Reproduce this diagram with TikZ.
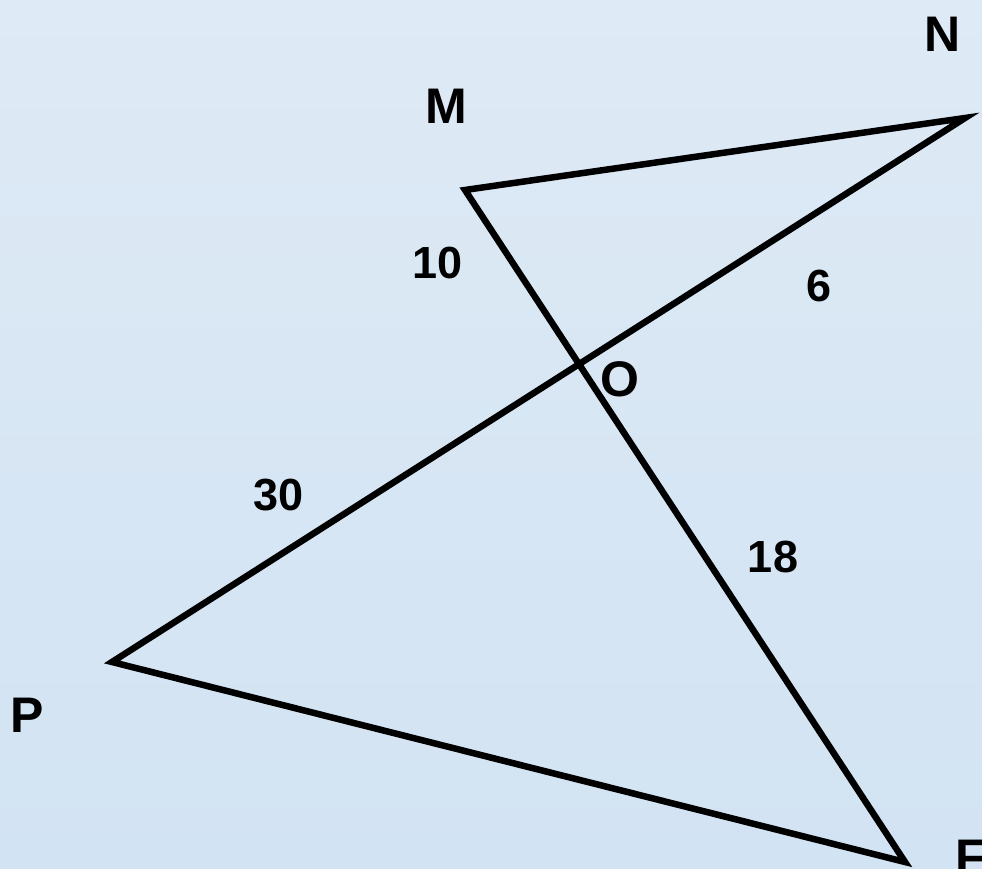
\documentclass[tikz,border=0pt]{standalone}
\usepackage{fontspec}
\setmainfont{Liberation Sans}
\definecolor{bgA}{RGB}{222,234,245}
\definecolor{bgB}{RGB}{210,227,243}
\begin{document}
\begin{tikzpicture}[x=1pt,y=-1pt,
  seg/.style={line width=6.5pt,line join=miter,black},
  lbl/.style={font=\bfseries\fontsize{50}{50}\selectfont,inner sep=0pt},
  num/.style={font=\bfseries\fontsize{45}{45}\selectfont,inner sep=0pt}]
\shade[top color=bgA,bottom color=bgB] (0,0) rectangle (982,869);
\useasboundingbox (0,0) rectangle (982,869);
\coordinate (M) at (465,190);
\coordinate (N) at (965,118);
\coordinate (P) at (112,662);
\coordinate (F) at (905,862);
\draw[seg] (M) -- (N) -- (P) -- (F) -- cycle;
\node[lbl] (lM) at (446,106) {M};
\node[lbl] (lN) at (943,34) {N};
\node[lbl] (lO) at (620,379) {O};
\node[lbl] (lP) at (27,715) {P};
\node[lbl,anchor=west] (lF) at (955,857) {F};
\node[num] (n10) at (438,263) {10};
\node[num] (n6) at (819,286) {6};
\node[num] (n30) at (279,495) {30};
\node[num] (n18) at (773,557) {18};
\end{tikzpicture}
\end{document}
